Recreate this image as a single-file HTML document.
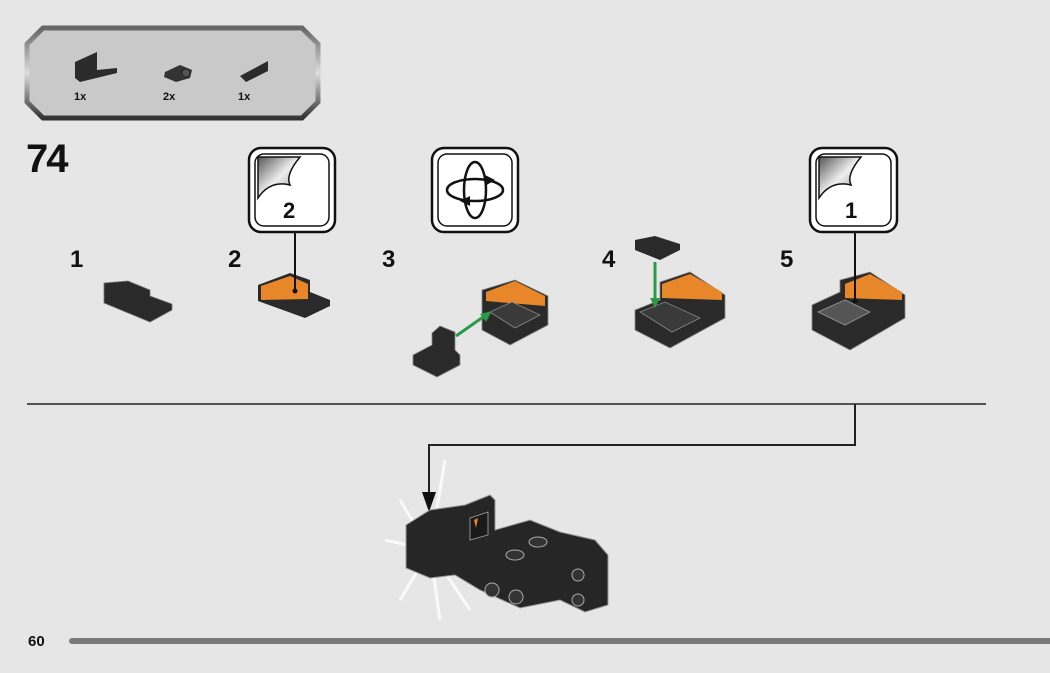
<!DOCTYPE html>
<html><head><meta charset="utf-8"><style>
html,body{margin:0;padding:0;background:#e6e6e6;width:1050px;height:673px;overflow:hidden}
svg{display:block}
text{font-family:"Liberation Sans",sans-serif;font-weight:bold;fill:#111}
</style></head><body>
<svg width="1050" height="673" viewBox="0 0 1050 673">
<defs>
<linearGradient id="pb" x1="0" y1="0" x2="0" y2="1"><stop offset="0" stop-color="#666"/><stop offset=".5" stop-color="#ddd"/><stop offset="1" stop-color="#333"/></linearGradient>
<linearGradient id="st" x1="0" y1="0" x2="1" y2="1"><stop offset="0" stop-color="#555"/><stop offset=".5" stop-color="#eee"/><stop offset="1" stop-color="#888"/></linearGradient>
</defs>
<rect width="1050" height="673" fill="#e6e6e6"/>
<polygon points="43,28 302,28 318,44 318,102 302,118 43,118 27,102 27,44" fill="#c9c9c9" stroke="url(#pb)" stroke-width="5"/>
<path d="M75,62 L75,78 L80,82 L117,73 L117,68 L97,70 L97,52 Z" fill="#2b2b2b"/>
<path d="M165,72 L180,65 L192,70 L190,78 L176,82 L164,77Z" fill="#333"/><circle cx="186" cy="73" r="4" fill="#555" stroke="#222"/>
<path d="M240,76 L268,61 L268,71 L246,82Z" fill="#2b2b2b"/>
<text x="74" y="100" font-size="11">1x</text><text x="163" y="100" font-size="11">2x</text><text x="238" y="100" font-size="11">1x</text>
<text x="26" y="172" font-size="40" letter-spacing="-2">74</text>
<g stroke="#111" stroke-width="2.5" fill="#fff">
<rect x="249" y="148" width="86" height="84" rx="12"/><rect x="255" y="154" width="74" height="72" rx="9" stroke-width="1.5"/>
<rect x="432" y="148" width="86" height="84" rx="12"/><rect x="438" y="154" width="74" height="72" rx="9" stroke-width="1.5"/>
<rect x="810" y="148" width="87" height="84" rx="12"/><rect x="816" y="154" width="75" height="72" rx="9" stroke-width="1.5"/>
</g>
<path d="M258,157 L300,157 Q285,175 290,185 Q270,180 258,198Z" fill="url(#st)" stroke="#111" stroke-width="1.5"/>
<path d="M819,157 L861,157 Q846,175 851,185 Q831,180 819,198Z" fill="url(#st)" stroke="#111" stroke-width="1.5"/>
<text x="283" y="218" font-size="22" font-weight="normal">2</text>
<text x="845" y="218" font-size="22" font-weight="normal">1</text>
<g fill="none" stroke="#111" stroke-width="2.5"><ellipse cx="475" cy="190" rx="28" ry="11"/><ellipse cx="475" cy="190" rx="11" ry="28"/></g>
<path d="M460,201 L470,196 L470,206Z M485,175 L495,180 L485,186Z" fill="#111"/>
<g font-size="24"><text x="70" y="267">1</text><text x="228" y="267">2</text><text x="382" y="267">3</text><text x="602" y="267">4</text><text x="780" y="267">5</text></g>
<path d="M104,283 L104,303 L150,322 L172,310 L172,304 L150,296 L150,290 L128,281 Z" fill="#2a2a2a" stroke="#777" stroke-width=".8"/>
<path d="M258,285 L258,301 L305,318 L330,306 L330,300 L310,292 L310,280 L290,273 Z" fill="#2a2a2a"/>
<path d="M261,286 L290,276 L308,284 L308,299 L261,300Z" fill="#e8862a"/>
<line x1="295" y1="232" x2="295" y2="290" stroke="#111" stroke-width="2"/><circle cx="295" cy="291" r="2.5" fill="#111"/>
<!-- step 3 -->
<path d="M482,300 L482,330 L510,345 L548,325 L548,296 L515,280 L482,290Z" fill="#2a2a2a" stroke="#888" stroke-width=".8"/>
<path d="M486,292 L515,281 L545,296 L545,306 L486,301Z" fill="#e8862a"/>
<path d="M490,312 L512,302 L540,315 L515,328Z" fill="#3a3a3a" stroke="#888" stroke-width=".8"/>
<path d="M413,355 L413,365 L437,377 L460,365 L460,355 L455,350 L455,332 L440,326 L432,333 L432,345Z" fill="#2a2a2a" stroke="#888" stroke-width=".8"/>
<line x1="456" y1="336" x2="486" y2="315" stroke="#2a9a4a" stroke-width="3"/><path d="M492,311 L480,314 L486,322Z" fill="#2a9a4a"/>
<!-- step 4 -->
<path d="M635,240 L655,236 L680,244 L680,250 L660,260 L635,250Z" fill="#2a2a2a"/>
<path d="M635,310 L635,330 L670,348 L725,318 L725,295 L690,272 L660,282 L660,300Z" fill="#2a2a2a" stroke="#888" stroke-width=".8"/>
<path d="M662,284 L690,274 L722,292 L722,300 L662,298Z" fill="#e8862a"/>
<path d="M640,312 L665,302 L700,318 L672,332Z" fill="#3a3a3a" stroke="#888" stroke-width=".8"/>
<line x1="655" y1="262" x2="655" y2="300" stroke="#2a9a4a" stroke-width="3"/><path d="M650,298 L660,298 L655,308Z" fill="#2a9a4a"/>
<!-- step 5 -->
<path d="M812,305 L812,330 L850,350 L905,318 L905,295 L870,272 L840,280 L840,292Z" fill="#2a2a2a" stroke="#888" stroke-width=".8"/>
<path d="M845,284 L870,274 L902,292 L902,300 L845,298Z" fill="#e8862a"/>
<path d="M818,312 L845,300 L870,312 L845,325Z" fill="#555" stroke="#999" stroke-width=".8"/>
<line x1="855" y1="232" x2="855" y2="300" stroke="#111" stroke-width="2"/><circle cx="855" cy="301" r="2.5" fill="#111"/>
<line x1="27" y1="404" x2="986" y2="404" stroke="#222" stroke-width="1.5"/>
<polyline points="855,404 855,445 429,445 429,498" fill="none" stroke="#222" stroke-width="2"/>
<path d="M422,492 L436,492 L429,512Z" fill="#111"/>
<g stroke="#fff" stroke-width="3" opacity=".8">
<line x1="430" y1="550" x2="385" y2="540"/><line x1="430" y1="550" x2="400" y2="500"/><line x1="430" y1="550" x2="445" y2="460"/><line x1="430" y1="550" x2="400" y2="600"/><line x1="430" y1="550" x2="440" y2="620"/><line x1="430" y1="550" x2="470" y2="610"/>
</g>
<path d="M406,525 L430,510 L465,505 L490,495 L495,500 L495,530 L530,520 L560,532 L595,540 L608,555 L608,605 L585,612 L560,600 L520,608 L480,590 L455,575 L430,578 L406,568Z" fill="#262626" stroke="#999" stroke-width="1"/>
<path d="M470,518 L488,512 L488,535 L470,540Z" fill="#1a1a1a" stroke="#aaa" stroke-width=".8"/>
<path d="M474,520 L478,518 L476,528Z" fill="#e8862a"/>
<g fill="#333" stroke="#aaa" stroke-width="1"><ellipse cx="538" cy="542" rx="9" ry="5"/><ellipse cx="515" cy="555" rx="9" ry="5"/><circle cx="492" cy="590" r="7"/><circle cx="516" cy="597" r="7"/><circle cx="578" cy="575" r="6"/><circle cx="578" cy="600" r="6"/></g>
<text x="28" y="646" font-size="15">60</text>
<line x1="72" y1="641" x2="1050" y2="641" stroke="#7a7a7a" stroke-width="6" stroke-linecap="round"/>
</svg>
</body></html>
